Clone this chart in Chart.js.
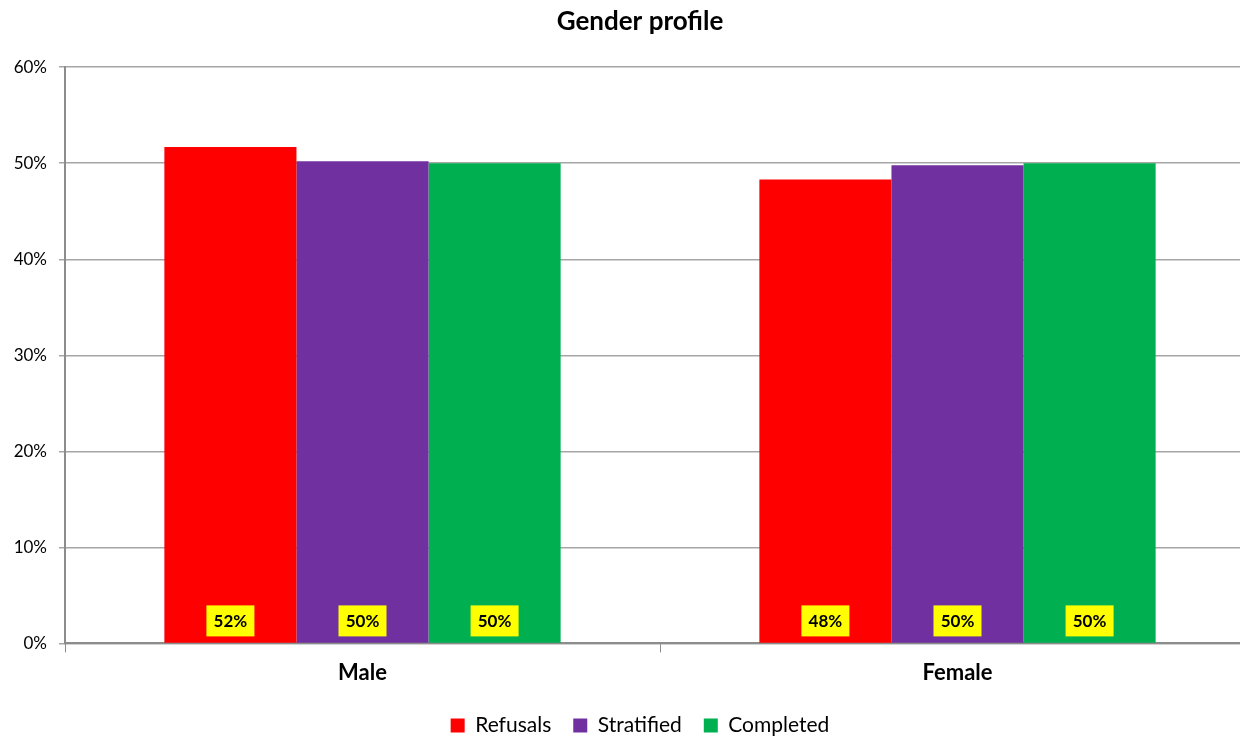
<!DOCTYPE html>
<html lang="en">
<head>
  <meta charset="UTF-8" />
  <title>Gender profile</title>
  <script src="https://cdn.jsdelivr.net/npm/chart.js"></script>
  <style>
    * { margin: 0; padding: 0; box-sizing: border-box; }
    body { background: #fff; overflow: hidden; }
    #wrap { width: 1280px; height: 746px; }
  </style>
</head>
<body>
  <div id="wrap"><canvas id="genderChart"></canvas></div>

  <script>
    const categories = ["Male", "Female"];
    const refusals = [51.7, 48.3];
    const stratified = [50.2, 49.8];
    const completed = [50.0, 50.0];
    const yTicks = [0, 10, 20, 30, 40, 50, 60];

    const FONT = "Lato, 'Open Sans', sans-serif";

    // yellow value boxes near the bottom of each bar
    const valueBoxes = {
      id: "valueBoxes",
      afterDatasetsDraw(chart) {
        const ctx = chart.ctx;
        const bottom = chart.scales.y.getPixelForValue(0);
        ctx.save();
        ctx.font = "bold 17px " + FONT;
        ctx.textAlign = "center";
        ctx.textBaseline = "middle";
        chart.data.datasets.forEach((ds, i) => {
          chart.getDatasetMeta(i).data.forEach((bar, j) => {
            const txt = Math.round(ds.data[j]) + "%";
            const cy = bottom - 23;
            ctx.fillStyle = "#ffff00";
            ctx.fillRect(bar.x - 24, cy - 15, 48, 31);
            ctx.fillStyle = "#000";
            ctx.fillText(txt, bar.x, cy + 1);
          });
        });
        ctx.restore();
      }
    };

    new Chart(genderChart, {
      type: "bar",
      data: {
        labels: categories,
        datasets: [
          { label: "Refusals", data: refusals, backgroundColor: "#ff0000" },
          { label: "Stratified", data: stratified, backgroundColor: "#7030a0" },
          { label: "Completed", data: completed, backgroundColor: "#00b050" }
        ]
      },
      options: {
        responsive: true,
        maintainAspectRatio: false,
        animation: false,
        layout: { padding: { top: 5, right: 0, left: 0, bottom: 0 } },
        datasets: { bar: { categoryPercentage: 0.666, barPercentage: 1.0 } },
        plugins: {
          title: {
            display: true,
            text: "Gender profile",
            color: "#000",
            font: { family: FONT, size: 26, weight: "bold" },
            padding: { top: 1, bottom: 30 }
          },
          legend: {
            position: "bottom",
            labels: {
              color: "#000",
              font: { family: FONT, size: 21 },
              boxWidth: 14,
              boxHeight: 14,
              padding: 22
            }
          },
          tooltip: { enabled: false }
        },
        scales: {
          x: {
            grid: { drawOnChartArea: false, drawTicks: true, tickLength: 9, color: "#8c8c8c", offset: true },
            border: { color: "#8c8c8c", width: 2 },
            ticks: { color: "#000", font: { family: FONT, size: 22, weight: "bold", lineHeight: 0.8 }, padding: 11.5 }
          },
          y: {
            min: 0,
            max: 60,
            afterFit(scale) { scale.width = 65; },
            afterBuildTicks(scale) { scale.ticks = yTicks.map(v => ({ value: v })); },
            grid: { color: "#a6a6a6", lineWidth: 1.5, tickLength: 6 },
            border: { color: "#8c8c8c", width: 2 },
            ticks: {
              color: "#000",
              font: { family: FONT, size: 17 },
              padding: 12,
              callback: v => v + "%"
            }
          },
          // empty right-hand axis so the plot runs past the window edge like the original
          yPad: {
            position: "right",
            min: 0,
            max: 60,
            afterFit(scale) { scale.width = 25; },
            grid: { drawOnChartArea: false, drawTicks: false },
            border: { display: false },
            ticks: { display: false }
          }
        }
      },
      plugins: [valueBoxes]
    });
  </script>
</body>
</html>
